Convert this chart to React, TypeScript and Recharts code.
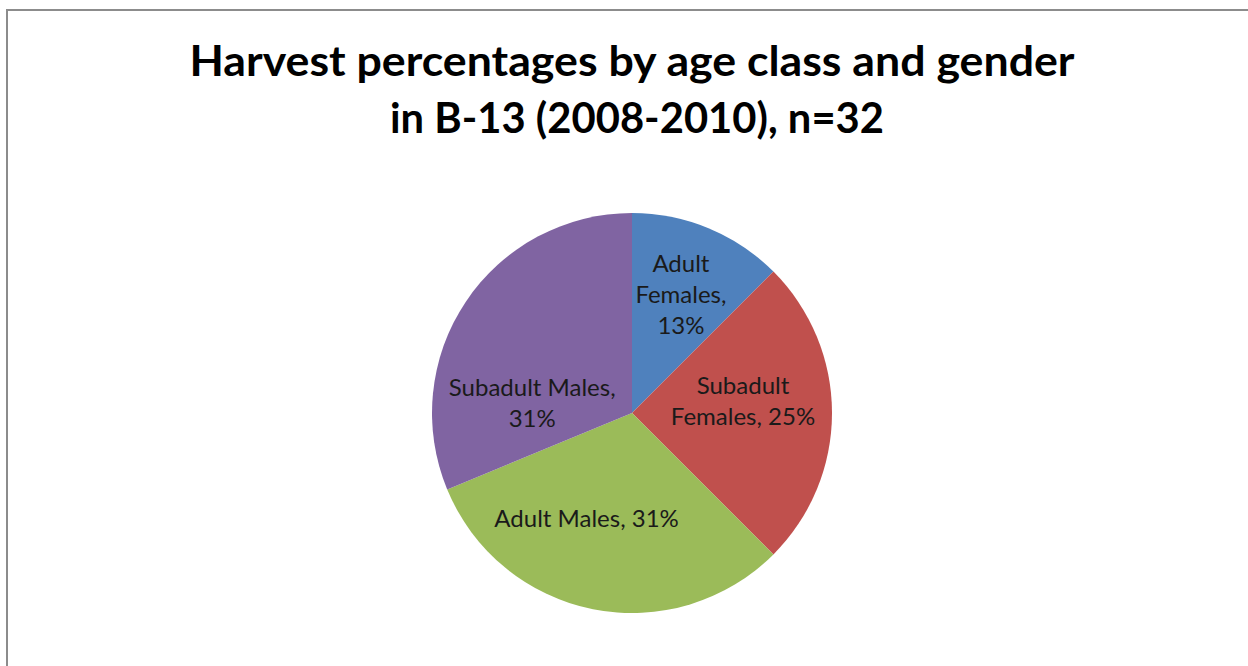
import { Cell, Pie, PieChart } from 'recharts'

const categories = ['Adult Females', 'Subadult Females', 'Adult Males', 'Subadult Males']
const counts = [4, 8, 10, 10]
const colors = ['#4F81BD', '#C0504D', '#9BBB59', '#8064A2']
const titleLines = ['Harvest percentages by age class and gender', 'in B-13 (2008-2010), n=32']

const data = categories.map((name, i) => ({ name, value: counts[i] }))

const RADIAN = Math.PI / 180
const FONT = 'Lato, "Open Sans", sans-serif'

// where each label sits, nudged like Excel's "best fit"
const labelTweak = [
  { dx: 3, dy: -9, lines: (n: string, p: string) => ['Adult', 'Females,', p] },
  { dx: -9, dy: -13, lines: (n: string, p: string) => ['Subadult', `Females, ${p}`] },
  { dx: -22, dy: -13, lines: (n: string, p: string) => [`${n}, ${p}`] },
  { dx: 0, dy: 56, lines: (n: string, p: string) => [`${n},`, p] },
]

const renderLabel = (props: any) => {
  const { cx, cy, midAngle, outerRadius, percent, name, index } = props
  const r = outerRadius * 0.6
  const t = labelTweak[index]
  const x = cx + r * Math.cos(-midAngle * RADIAN) + t.dx
  const y = cy + r * Math.sin(-midAngle * RADIAN) + t.dy
  const pct = `${Math.round(percent * 100)}%`
  const lines = t.lines(name, pct)
  const lh = 31
  return (
    <g>
      {lines.map((line, i) => (
        <text
          key={i}
          x={x}
          y={y + (i - (lines.length - 1) / 2) * lh}
          textAnchor="middle"
          dominantBaseline="central"
          fill="#1a1a1a"
          fontFamily={FONT}
          fontSize={24}
        >
          {line}
        </text>
      ))}
    </g>
  )
}

export default function App() {
  return (
    <div style={{ position: 'absolute', left: 0, top: 0, width: 1248, height: 666, background: '#fff', overflow: 'hidden' }}>
      <svg width={1248} height={666} style={{ position: 'absolute', left: 0, top: 0 }}>
        <rect x={7} y={10} width={1400} height={800} fill="#fff" stroke="#8c8c8c" strokeWidth={2} />
        <text x={632} y={76} textAnchor="middle" fontFamily={FONT} fontWeight="bold" fontSize={42} fill="#000" textLength={885} lengthAdjust="spacingAndGlyphs">
          {titleLines[0]}
        </text>
        <text x={637} y={133} textAnchor="middle" fontFamily={FONT} fontWeight="bold" fontSize={42} fill="#000" textLength={494} lengthAdjust="spacingAndGlyphs">
          {titleLines[1]}
        </text>
      </svg>
      <div style={{ position: 'absolute', left: 0, top: 0 }}>
        <PieChart width={1248} height={666} margin={{ top: 0, right: 0, bottom: 0, left: 0 }}>
          <Pie
            data={data}
            dataKey="value"
            nameKey="name"
            cx={632}
            cy={413}
            outerRadius={200}
            startAngle={90}
            endAngle={-270}
            stroke="none"
            labelLine={false}
            label={renderLabel}
            isAnimationActive={false}
          >
            {data.map((entry, index) => (
              <Cell key={`cell-${index}`} fill={colors[index]} />
            ))}
          </Pie>
        </PieChart>
      </div>
    </div>
  )
}
